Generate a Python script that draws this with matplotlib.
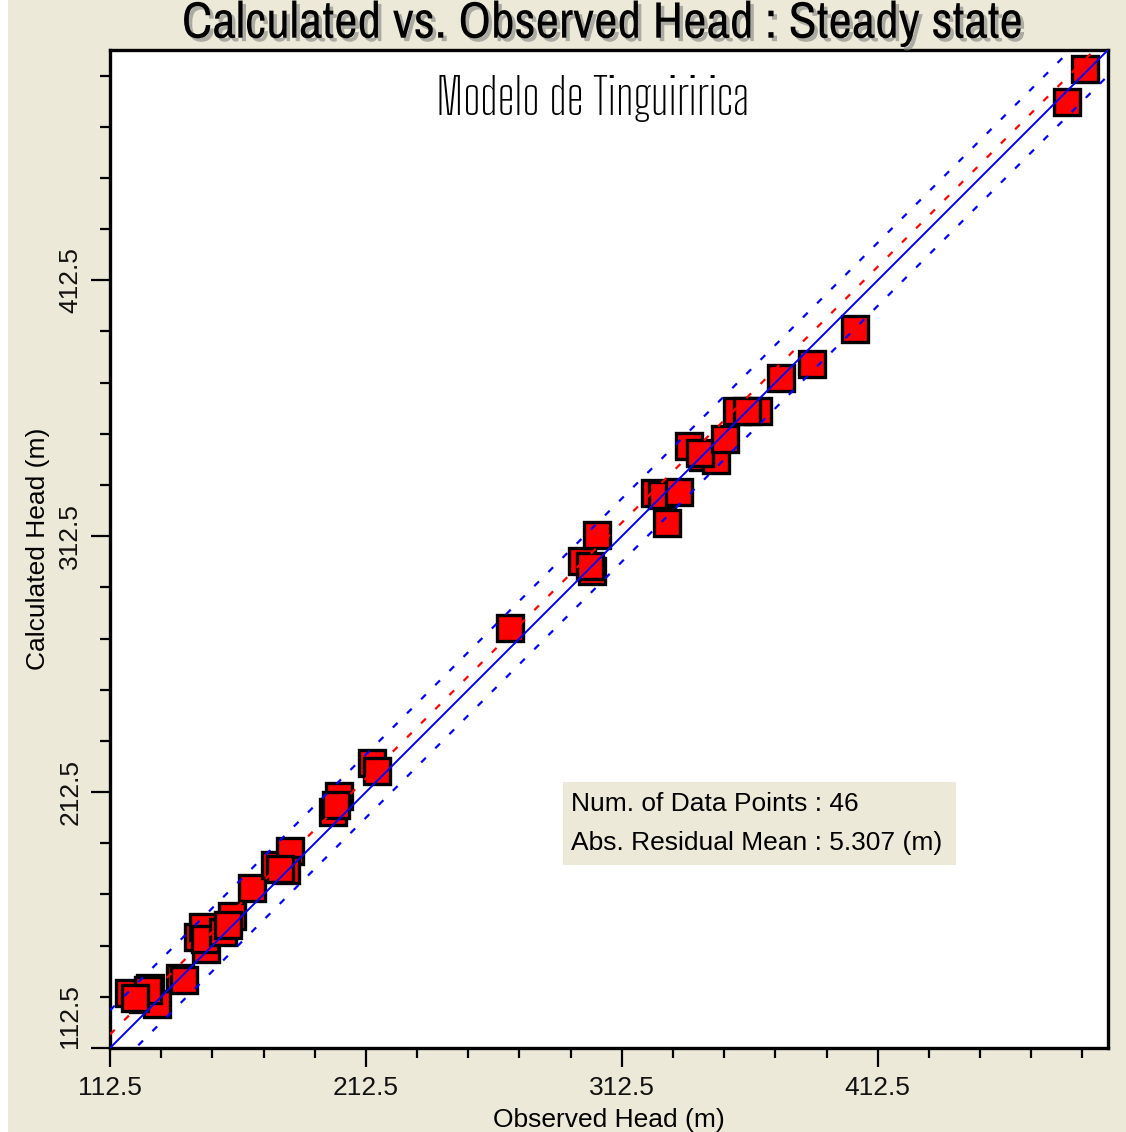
import matplotlib
matplotlib.use("Agg")
import matplotlib.pyplot as plt
import matplotlib.patheffects as pe
from matplotlib.patches import Rectangle
from matplotlib.ticker import MultipleLocator, FixedLocator

# --- colours ---
PANEL = "#ece9d8"     # classic windows beige
RED = "#ff0000"
BLUE = "#0000ff"
SANS = ["Liberation Sans", "DejaVu Sans"]

# --- data ---
observed = [119.9, 128.1, 125.4, 130.9, 127.3, 122.3, 139.8, 141.4, 146.9, 148.8,
            150.0, 149.6, 160.2, 156.6, 158.6, 168.0, 177.0, 182.8, 181.3, 178.9,
            199.6, 202.0, 200.8, 214.8, 216.8, 268.8, 296.9, 302.7, 300.8, 300.0,
            330.1, 325.4, 328.1, 334.8, 338.7, 344.1, 349.2, 343.0, 352.7, 357.4,
            365.6, 361.4, 374.6, 386.7, 403.5, 493.4]
calculated = [134.1, 136.0, 131.7, 129.8, 135.2, 132.1, 140.0, 139.2, 156.0, 159.6,
              151.3, 154.9, 163.9, 158.0, 160.7, 174.9, 183.9, 189.4, 181.9, 182.3,
              204.7, 210.9, 207.4, 223.9, 220.7, 276.8, 302.7, 312.9, 298.8, 300.8,
              317.6, 329.4, 328.6, 329.8, 347.8, 343.5, 342.3, 345.0, 350.5, 361.5,
              361.5, 361.5, 374.5, 379.6, 393.3, 495.2]
extra_obs = [486.3]
extra_calc = [482.3]

# reference lines: 1:1, residual-mean line and the two interval lines (offsets in m)
LIMITS = [112.5, 502.5]
MEAN_OFFSET = 5.3
UPPER_OFFSET = 14.7
LOWER_OFFSET = -10.0

N_POINTS = 46
ABS_RES_MEAN = 5.307
major = [112.5, 212.5, 312.5, 412.5]

fig = plt.figure(figsize=(11.26, 11.32), dpi=100)
fig.patch.set_facecolor(PANEL)
fig.patches.append(Rectangle((0, 0), 8 / 1126, 1, transform=fig.transFigure,
                             facecolor="white", edgecolor="none", zorder=0))

ax = fig.add_axes([110 / 1126, 84 / 1132, 998 / 1126, 998 / 1132])
ax.set_facecolor("white")

ax.plot(observed + extra_obs, calculated + extra_calc, ls="none", marker="s",
        ms=18.5, mfc=RED, mec="black", mew=2.4, zorder=2)

ax.plot(LIMITS, LIMITS, color=BLUE, lw=1.4, zorder=4)
ax.plot(LIMITS, [v + MEAN_OFFSET for v in LIMITS], color=RED, lw=1.6,
        ls=(0, (3, 6)), zorder=3)
ax.plot(LIMITS, [v + UPPER_OFFSET for v in LIMITS], color=BLUE, lw=1.6,
        ls=(0, (3, 6)), zorder=3)
ax.plot(LIMITS, [v + LOWER_OFFSET for v in LIMITS], color=BLUE, lw=1.6,
        ls=(0, (3, 6)), zorder=3)

ax.set_xlim(LIMITS)
ax.set_ylim(LIMITS)

ax.xaxis.set_major_locator(FixedLocator(major))
ax.yaxis.set_major_locator(FixedLocator(major))
ax.xaxis.set_minor_locator(MultipleLocator(20, offset=12.5))
ax.yaxis.set_minor_locator(MultipleLocator(20, offset=12.5))
ax.set_xticklabels([f"{v:.1f}" for v in major])
ax.set_yticklabels([f"{v:.1f}" for v in major], rotation=90, va="center")
ax.get_yticklabels()[0].set_va("bottom")

for lab in ax.get_xticklabels() + ax.get_yticklabels():
    lab.set_fontfamily(SANS)
    lab.set_fontsize(19)
    lab.set_color("#111111")

ax.tick_params(which="major", length=14, width=1.6, direction="out", pad=6)
ax.tick_params(which="minor", length=7, width=1.6, direction="out")
for sp in ax.spines.values():
    sp.set_linewidth(2.4)
    sp.set_color("black")

ax.set_xlabel("Observed Head (m)", fontsize=19, family=SANS, labelpad=6)
ax.set_ylabel("Calculated Head (m)", fontsize=19, family=SANS, labelpad=6)

# statistics box
ax.add_patch(Rectangle((0.454, 0.183), 0.394, 0.084, transform=ax.transAxes,
                       facecolor=PANEL, edgecolor="none", zorder=5))
ax.text(0.462, 0.2445, f"Num. of Data Points : {N_POINTS}", transform=ax.transAxes,
        fontsize=19, family=SANS, va="center", ha="left", zorder=6)
ax.text(0.462, 0.2054, f"Abs. Residual Mean : {ABS_RES_MEAN:.3f} (m)",
        transform=ax.transAxes, fontsize=19, family=SANS, va="center", ha="left", zorder=6)

ax.text(0.484, 0.950, "Modelo de Tinguiririca", transform=ax.transAxes, fontsize=36,
        family=["Big Shoulders Text", "DejaVu Sans"], fontweight="light",
        ha="center", va="center")

fig.text(0.535, 0.9795, "Calculated vs. Observed Head : Steady state", ha="center",
         va="center", fontsize=37, fontweight="heavy",
         family=["Archivo Narrow", "Liberation Sans", "DejaVu Sans"],
         path_effects=[pe.withSimplePatchShadow(offset=(2.5, -2.5),
                                                shadow_rgbFace="#808080", alpha=0.6)])

fig.savefig("out.png", dpi=100, facecolor=PANEL)
